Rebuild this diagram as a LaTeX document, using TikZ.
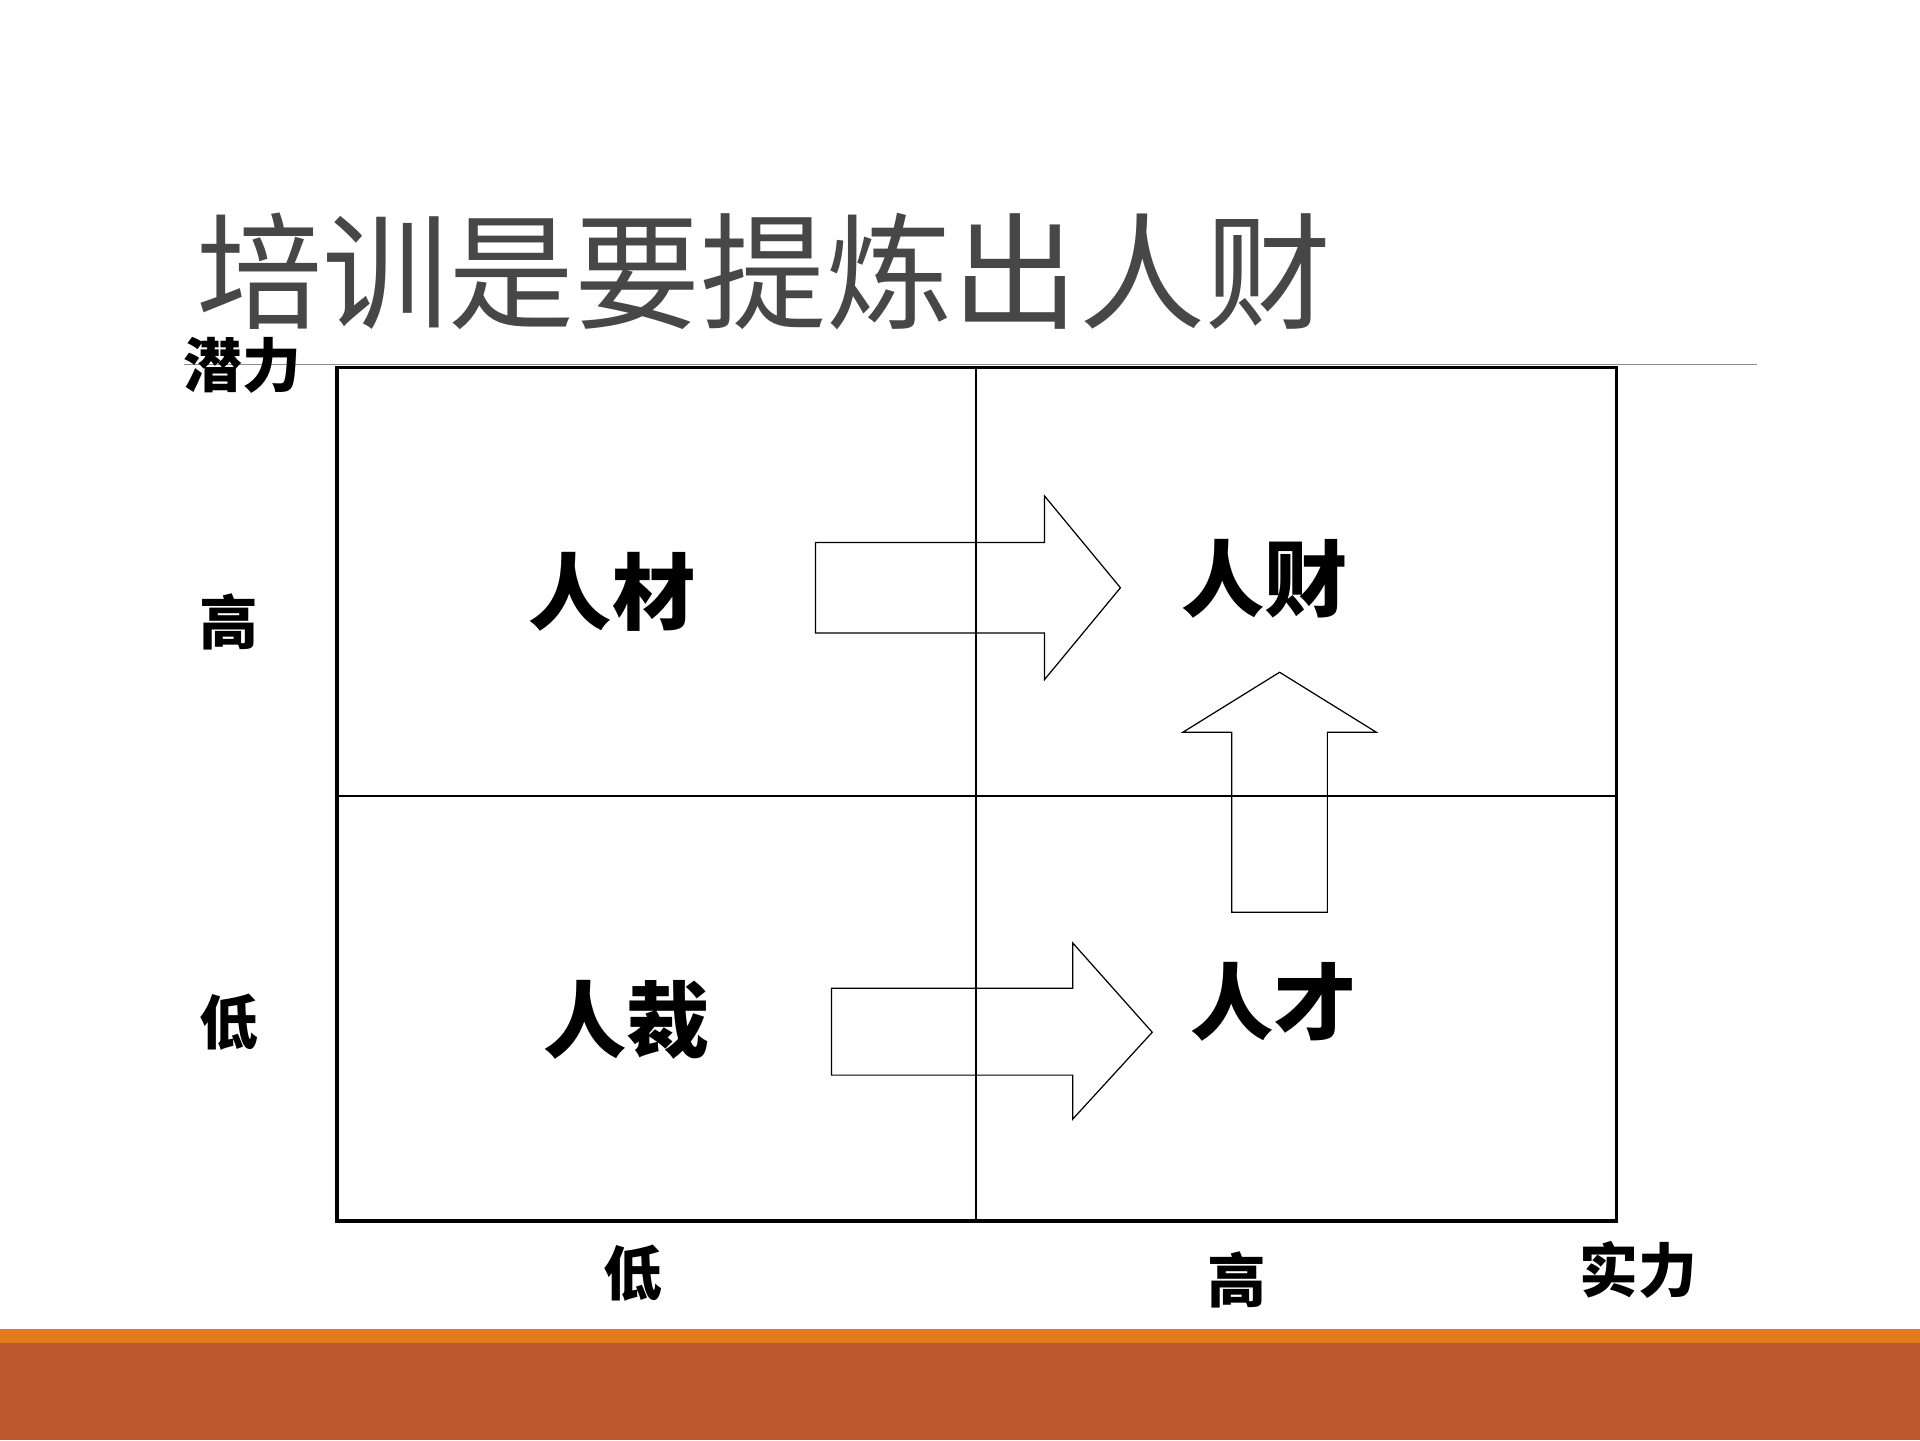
\documentclass[tikz,border=0pt]{standalone}
\usepackage{fontspec}
\newfontfamily\cjk{Noto Sans CJK SC}
\begin{document}
\begin{tikzpicture}[x=1pt,y=-1pt,
  ax/.style={font=\cjk\bfseries\fontsize{48}{52}\selectfont,inner sep=0},
  qd/.style={font=\cjk\bfseries\fontsize{68}{72}\selectfont,inner sep=0},
  arr/.style={draw=black,line width=1pt,line join=miter}]
\useasboundingbox (0,0) rectangle (1568,1176);
\fill[white] (0,0) rectangle (1568,1176);
\node[font=\cjk\fontsize{103}{107}\selectfont,text=black!72,inner sep=0,anchor=west] (title) at (160,222) {培训是要提炼出人财};
\draw[black!45,line width=0.8pt] (150,298) -- (1435,298);
\draw[line width=3pt] (275,300) rectangle (1320,997);
\draw[line width=2pt] (797,300) -- (797,997);
\draw[line width=2pt] (275,650) -- (1320,650);
\node[ax] (qianli) at (198,298) {潜力};
\node[ax] (gao1) at (187,508) {高};
\node[ax] (di1) at (187,835) {低};
\node[ax] (di2) at (517,1040) {低};
\node[ax] (gao2) at (1010,1045) {高};
\node[ax] (shili) at (1338,1037) {实力};
\node[qd] (rc1) at (500,483) {人材};
\node[qd] (rc2) at (1033,473) {人财};
\node[qd] (rc3) at (512,833) {人裁};
\node[qd] (rc4) at (1040,818) {人才};
\draw[arr] (666,443) -- (853,443) -- (853,405) -- (915,480) -- (853,555) -- (853,517) -- (666,517) -- cycle;
\draw[arr] (1006,745) -- (1006,598) -- (966,598) -- (1045,549) -- (1124,598) -- (1084,598) -- (1084,745) -- cycle;
\draw[arr] (679,807) -- (876,807) -- (876,770) -- (941,843) -- (876,914) -- (876,878) -- (679,878) -- cycle;
\fill[fill={rgb,255:red,224;green,124;blue,26}] (0,1085) rectangle (1568,1097);
\fill[fill={rgb,255:red,190;green,88;blue,45}] (0,1097) rectangle (1568,1176);
\end{tikzpicture}
\end{document}
